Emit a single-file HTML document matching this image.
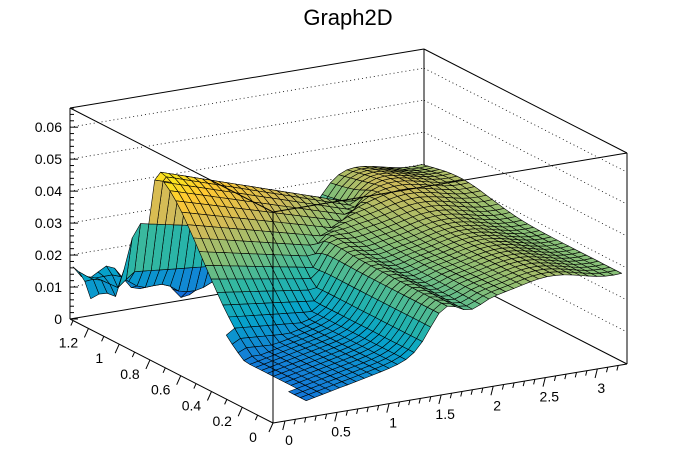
<!DOCTYPE html>
<html><head><meta charset="utf-8"><style>
html,body{margin:0;padding:0;background:#fff;}
svg{display:block;font-family:"Liberation Sans",Arial,sans-serif;}
</style></head><body>
<svg id="s" width="696" height="472" viewBox="0 0 696 472" xmlns="http://www.w3.org/2000/svg">
<rect width="696" height="472" fill="#fff"/>
<text x="348" y="25" font-size="22" text-anchor="middle">Graph2D</text>
<g id="back"></g>
<g id="surf"></g>
<g id="front"></g>
</svg>
<script>
(function(){
var NS="http://www.w3.org/2000/svg";
function el(p,t,a,txt){var e=document.createElementNS(NS,t);for(var k in a)e.setAttribute(k,a[k]);if(txt!=null)e.textContent=txt;p.appendChild(e);return e;}
var back=document.getElementById('back'),surf=document.getElementById('surf'),front=document.getElementById('front');
var ZS=211/0.066;
function P(u,v,z){return [273+354*u-203*v, 423-59*u-104*v-ZS*z];}
function line(g,a,b,extra){var o={x1:a[0],y1:a[1],x2:b[0],y2:b[1],stroke:'#000','stroke-width':1};for(var k in extra)o[k]=extra[k];el(g,'line',o);}
for(var i=1;i<=6;i++){var z=i*0.01;
 var a=P(0,1,z),b=P(1,1,z),c=P(1,0,z);
 line(back,a,b,{'stroke-dasharray':'1,3','stroke-width':0.8});
 line(back,b,c,{'stroke-dasharray':'1,3','stroke-width':0.8});
}
var ZM=0.066;
line(back,P(0,1,0),P(1,1,0));line(back,P(1,1,0),P(1,0,0));
line(back,P(1,1,0),P(1,1,ZM));
line(back,P(0,1,ZM),P(1,1,ZM));line(back,P(1,1,ZM),P(1,0,ZM));
function S(x){return 1/(1+Math.exp(-x));}
function zf(u,v){
 var ucut=0.45+0.25*S((v-0.72)/0.04);
 var right=S((u-ucut)/0.025);
 var frontz=0.003+0.024*u;
 var pocket=0.004+0.013*Math.max(0,1-u/0.3)+0.003*Math.sin(u*45)*Math.sin(v*30);
 var pb=S((v-0.9)/0.02)*(1-S((u-0.45)/0.03));
 var L=frontz*(1-pb)+pocket*pb;
 var R=0.03+0.004*Math.exp(-Math.pow((v-0.8)/0.22,2))-0.004*Math.exp(-Math.pow((u-0.55)/0.05,2))*(1-v)+0.0015*Math.sin(u*18);
 var base=L*(1-right)+R*right;
 var a;
 if(u<0.14)a=0.049*Math.exp(-Math.pow((u-0.14)/0.06,2));else a=Math.max(0.049-0.036*(u-0.14),0.012);
 var vc=0.85;
 var w=v<vc?0.36:0.07;
 var r=a*Math.exp(-Math.pow((v-vc)/w,2));
 var z=Math.max(base,r);
 return Math.min(z,0.065);
}
var st=[[0.2082,0.1664,0.5293],[0.0592,0.3599,0.8684],[0.0780,0.5041,0.8385],[0.0232,0.6419,0.7914],[0.1802,0.7178,0.6425],[0.5301,0.7492,0.4662],[0.8186,0.7328,0.3499],[0.9956,0.7862,0.1968],[0.9764,0.9832,0.0539]];
function col(z){var p=0.125+0.875*z/0.05;p=Math.max(0,Math.min(1,p));var s=p*8,i=Math.min(7,Math.floor(s)),f=s-i;
 var c=st[i].map(function(x,k){return Math.round(255*(x+(st[i+1][k]-x)*f));});return 'rgb('+c.join(',')+')';}
function inDom(u,v){return v>0.885 || u>0.1+0.06*v/0.88;}
var NU=42,NV=34,cells=[];
var u0=0.0,u1=0.985,v0=0.0,v1=0.985;
for(var i=0;i<NU;i++)for(var j=0;j<NV;j++){
 var ua=u0+(u1-u0)*i/NU,ub=u0+(u1-u0)*(i+1)/NU,va=v0+(v1-v0)*j/NV,vb=v0+(v1-v0)*(j+1)/NV;
 if(!inDom((ua+ub)/2,(va+vb)/2))continue;
 var za=zf(ua,va),zb=zf(ub,va),zc=zf(ub,vb),zd=zf(ua,vb);
 cells.push({d:0.55*(ua+ub)/2+(va+vb)/2,pts:[P(ua,va,za),P(ub,va,zb),P(ub,vb,zc),P(ua,vb,zd)],z:(za+zb+zc+zd)/4});
}
cells.sort(function(a,b){return b.d-a.d;});
cells.forEach(function(c){el(surf,'polygon',{points:c.pts.map(function(p){return p[0].toFixed(1)+','+p[1].toFixed(1);}).join(' '),fill:col(c.z),stroke:'#000','stroke-width':0.6,'stroke-linejoin':'round'});});
line(front,P(0,1,ZM),P(0,0,ZM));line(front,P(0,0,ZM),P(1,0,ZM));
line(front,P(0,0,0),P(0,0,ZM));line(front,P(1,0,0),P(1,0,ZM));
line(front,P(0,1,0),P(0,1,ZM));
line(front,P(0,0,0),P(1,0,0));line(front,P(0,0,0),P(0,1,0));
for(var k=0;k<=33;k++){var z=k*0.002;var y=319-ZS*z;var len=(k%5==0)?8:4;line(front,[70,y],[70+len,y]);}
for(var k=0;k<=6;k++){var y=319-ZS*k*0.01;el(front,'text',{x:62,y:y+5,'font-size':14,'text-anchor':'end'},k==0?'0':(k/100).toFixed(2));}
var xmin=-0.115,xr=3.4;
for(var k=0;k<=33;k++){var xv=k*0.1;var u=(xv-xmin)/xr;if(u>1)break;var p=P(u,0,0);var len=(k%5==0)?9:5;line(front,p,[p[0]-len*0.25,p[1]+len]);}
for(var k=0;k<=6;k++){var xv=k*0.5;var u=(xv-xmin)/xr;var p=P(u,0,0);el(front,'text',{x:p[0]+4,y:p[1]+24,'font-size':14,'text-anchor':'middle'},xv==0?'0':String(xv));}
var ymax=1.32;
for(var k=0;k<=13;k++){var yv=k*0.1;var v=yv/ymax;if(v>1)break;var p=P(0,v,0);var len=(k%2==0)?9:5;line(front,p,[p[0]-len*0.45,p[1]+len]);}
for(var k=0;k<=6;k++){var yv=k*0.2;var v=yv/ymax;var p=P(0,v,0);var t=(yv==0)?'0':(yv==1?'1':yv.toFixed(1));el(front,'text',{x:p[0]-20,y:p[1]+19,'font-size':14,'text-anchor':'middle'},t);}
})();
</script>
</body></html>
